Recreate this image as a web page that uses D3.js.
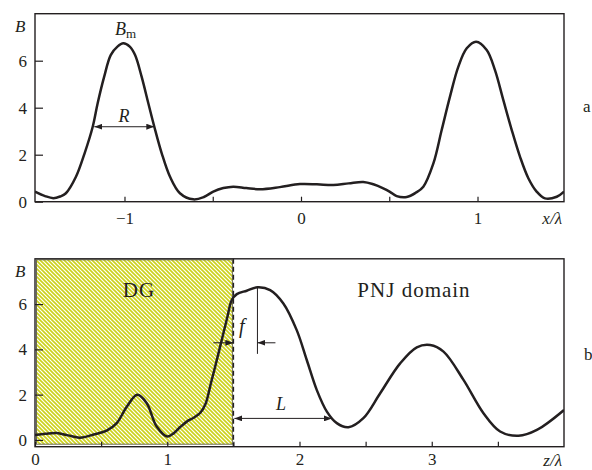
<!DOCTYPE html>
<html>
<head>
<meta charset="utf-8">
<title>B profiles</title>
<style>
  body { margin: 0; background: #fff; }
  svg { display: block; }
  text { font-family: "Liberation Serif", "Times New Roman", serif; fill: #231f20; }
  .tick line { stroke: #231f20; stroke-width: 1.2; }
  .tick text { font-size: 17px; }
  .curve { fill: none; stroke: #231f20; stroke-width: 2.5; stroke-linejoin: round; }
  .frame { fill: none; stroke: #231f20; stroke-width: 1.4; }
  .ann { stroke: #231f20; stroke-width: 1; fill: none; }
  .it { font-style: italic; }
</style>
</head>
<body>
<svg id="chart" width="592" height="470"></svg>
<script src="https://d3js.org/d3.v7.min.js"></script>
<script>
// panel a: B versus x/lambda
const xA = [-1.507, -1.45, -1.403, -1.365, -1.332, -1.275, -1.226, -1.18, -1.152, -1.115, -1.078, -1.04,
  -1.007, -0.97, -0.94, -0.903, -0.865, -0.831, -0.789, -0.742, -0.686, -0.61, -0.55, -0.497, -0.44,
  -0.384, -0.31, -0.232, -0.12, -0.006, 0.09, 0.183, 0.27, 0.353, 0.41, 0.466, 0.504, 0.542, 0.599,
  0.65, 0.693, 0.75, 0.797, 0.844, 0.891, 0.939, 0.992, 1.052, 1.099, 1.146, 1.194, 1.241, 1.288,
  1.335, 1.382, 1.449, 1.49];
const bA = [0.43, 0.24, 0.15, 0.22, 0.36, 1.06, 2.06, 3.19, 4.19, 5.32, 6.24, 6.6,
  6.74, 6.6, 6.24, 5.32, 4.19, 3.19, 2.06, 1.06, 0.36, 0.10, 0.2, 0.43, 0.58,
  0.64, 0.58, 0.53, 0.62, 0.75, 0.74, 0.71, 0.78, 0.84, 0.74, 0.57, 0.42, 0.24, 0.20,
  0.38, 0.64, 1.63, 3.05, 4.47, 5.74, 6.53, 6.81, 6.46, 5.6, 4.33, 3.05, 1.91, 1.0,
  0.43, 0.14, 0.21, 0.43];

// panel b: B versus z/lambda
const zB = [0, 0.08, 0.164, 0.25, 0.34, 0.45, 0.542, 0.618, 0.694, 0.774, 0.845, 0.92, 1.0, 1.05,
  1.1, 1.15, 1.2, 1.25, 1.29, 1.33, 1.362, 1.412, 1.455, 1.488, 1.526, 1.601, 1.682, 1.778,
  1.878, 1.979, 2.055, 2.131, 2.207, 2.282, 2.37, 2.483, 2.61, 2.761, 2.887, 2.988, 3.089, 3.24,
  3.391, 3.517, 3.656, 3.795, 4.0];
const bB = [0.22, 0.27, 0.30, 0.2, 0.10, 0.25, 0.41, 0.74, 1.47, 1.99, 1.62, 0.59, 0.15, 0.3,
  0.58, 0.82, 0.98, 1.2, 1.6, 2.5, 3.23, 4.41, 5.44, 6.18, 6.44, 6.59, 6.74, 6.62,
  6.03, 4.85, 3.53, 2.2, 1.25, 0.74, 0.56, 0.96, 2.06, 3.38, 4.09, 4.19, 3.9, 2.65,
  1.18, 0.37, 0.18, 0.44, 1.32];

const xTicksA = [-1, -0.5, 0, 0.5, 1];
const yTicksA = [0, 2, 4, 6];
const xTicksB = [0, 0.5, 1, 1.5, 2, 2.5, 3, 3.5];
const yTicksB = [0, 2, 4, 6];

const dgEnd = 1.5;                     // end of the DG region
const rSpan = [-1.171, -0.831, 3.19];  // R arrow: from, to, at B
const fSpan = [1.5, 1.682, 4.29];      // f: dashed line to peak, at B
const lSpan = [1.5, 2.245, 0.95];      // L arrow

const svg = d3.select('#chart');
const left = 35, right = 564;

const defs = svg.append('defs');
const pat = defs.append('pattern')
  .attr('id', 'hatch').attr('patternUnits', 'userSpaceOnUse')
  .attr('width', 4).attr('height', 4);
pat.append('rect').attr('width', 4).attr('height', 4).attr('fill', '#fff');
pat.append('path').attr('d', 'M-1,-1L5,5M-1,3L1,5M3,-1L5,1')
  .attr('stroke', '#cdd21a').attr('stroke-width', 1.6);

function arrowHead(id, dir) {
  defs.append('marker').attr('id', id)
    .attr('viewBox', '0 -3 8 6').attr('refX', 8).attr('refY', 0)
    .attr('markerWidth', 8).attr('markerHeight', 6)
    .attr('markerUnits', 'userSpaceOnUse')
    .attr('orient', dir)
    .append('path').attr('d', 'M0,-3L8,0L0,3Z').attr('fill', '#231f20');
}
arrowHead('head', 'auto');
arrowHead('headStart', 'auto-start-reverse');

function panel(g, x, y, xt, yt, xs, ys, xLabel, clipId, pad, labelDy) {
  const top = y.range()[1], bottom = y.range()[0];
  defs.append('clipPath').attr('id', clipId).append('rect')
    .attr('x', left).attr('y', top).attr('width', right - left).attr('height', bottom - top);

  g.append('g').attr('transform', `translate(0,${bottom})`)
    .call(d3.axisBottom(x).tickValues(xt).tickSizeInner(-5).tickSizeOuter(0).tickPadding(pad)
      .tickFormat(d => Number.isInteger(d) ? d3.format('')(d) : ''))
    .call(a => a.select('.domain').remove());
  g.append('g').attr('transform', `translate(${left},0)`)
    .call(d3.axisLeft(y).tickValues(yt).tickSizeInner(-8).tickSizeOuter(0).tickPadding(8))
    .call(a => a.select('.domain').remove());

  const line = d3.line().x((d, i) => x(xs[i])).y((d, i) => y(ys[i])).curve(d3.curveCatmullRom.alpha(0.5));
  g.append('rect').attr('class', 'frame')
    .attr('x', left).attr('y', top).attr('width', right - left).attr('height', bottom - top);

  g.append('text').attr('class', 'it').attr('x', 15).attr('y', top + 18).attr('font-size', 17).text('B');
  g.append('text').attr('class', 'it').attr('x', 562).attr('y', bottom + labelDy)
    .attr('text-anchor', 'end').attr('font-size', 17).text(xLabel);

  return () => g.append('path').attr('class', 'curve').attr('clip-path', `url(#${clipId})`)
    .attr('d', line(xs));
}

// ---------- panel a ----------
const xa = d3.scaleLinear().domain([-1.507, 1.49]).range([left, right]);
const ya = d3.scaleLinear().domain([0, 8]).range([201.7, 13.7]);
const ga = svg.append('g');
const drawA = panel(ga, xa, ya, xTicksA, yTicksA, xA, bA, 'x/λ', 'clipA', 10, 22.5);
drawA();

ga.append('line').attr('class', 'ann')
  .attr('x1', xa(rSpan[0])).attr('x2', xa(rSpan[1]))
  .attr('y1', ya(rSpan[2])).attr('y2', ya(rSpan[2]))
  .attr('marker-start', 'url(#headStart)').attr('marker-end', 'url(#head)');
ga.append('text').attr('class', 'it').attr('x', 124).attr('y', 121.5)
  .attr('text-anchor', 'middle').attr('font-size', 18).text('R');
const bm = ga.append('text').attr('x', 115).attr('y', 35).attr('font-size', 18);
bm.append('tspan').attr('class', 'it').text('B');
bm.append('tspan').attr('font-size', 13).attr('dy', 3).text('m');
ga.append('text').attr('x', 583).attr('y', 111.5).attr('font-size', 17).text('a');

// ---------- panel b ----------
const xb = d3.scaleLinear().domain([0, 4]).range([left, right]);
const yb = d3.scaleLinear().domain([-0.3, 8]).range([446.7, 258.8]);
const gb = svg.append('g');

gb.append('rect')
  .attr('x', xb(0) + 1.5).attr('y', yb(8) + 1)
  .attr('width', xb(dgEnd) - xb(0) - 2.5).attr('height', yb(-0.3) - yb(8) - 3.5)
  .attr('fill', 'url(#hatch)').attr('stroke', '#6b6b50').attr('stroke-width', 1);

const drawB = panel(gb, xb, yb, xTicksB, yTicksB, zB, bB, 'z/λ', 'clipB', 6.5, 18.8);

gb.append('line')
  .attr('x1', xb(dgEnd)).attr('x2', xb(dgEnd))
  .attr('y1', yb(8)).attr('y2', yb(-0.3))
  .attr('stroke', '#231f20').attr('stroke-width', 1.5).attr('stroke-dasharray', '5,3');

drawB();

// f annotation
gb.append('line').attr('class', 'ann')
  .attr('x1', xb(fSpan[1])).attr('x2', xb(fSpan[1]))
  .attr('y1', yb(6.74)).attr('y2', yb(3.8));
gb.append('line').attr('class', 'ann')
  .attr('x1', xb(fSpan[0]) - 20).attr('x2', xb(fSpan[0]))
  .attr('y1', yb(fSpan[2])).attr('y2', yb(fSpan[2]))
  .attr('marker-end', 'url(#head)');
gb.append('line').attr('class', 'ann')
  .attr('x1', xb(fSpan[1]) + 18).attr('x2', xb(fSpan[1]))
  .attr('y1', yb(fSpan[2])).attr('y2', yb(fSpan[2]))
  .attr('marker-end', 'url(#head)');
gb.append('text').attr('class', 'it').attr('x', 239).attr('y', 333).attr('font-size', 20).text('f');

// L annotation
gb.append('line').attr('class', 'ann')
  .attr('x1', xb(lSpan[0]) + 1).attr('x2', xb(lSpan[1]))
  .attr('y1', yb(lSpan[2])).attr('y2', yb(lSpan[2]))
  .attr('marker-start', 'url(#headStart)').attr('marker-end', 'url(#head)');
gb.append('text').attr('class', 'it').attr('x', 276).attr('y', 410).attr('font-size', 18).text('L');

gb.append('text').attr('x', 139).attr('y', 296.5).attr('text-anchor', 'middle')
  .attr('font-size', 21).attr('letter-spacing', 1).text('DG');
gb.append('text').attr('x', 414).attr('y', 296.5).attr('text-anchor', 'middle')
  .attr('font-size', 21).attr('letter-spacing', 1).text('PNJ domain');
gb.append('text').attr('x', 584).attr('y', 360).attr('font-size', 17).text('b');
</script>
</body>
</html>
